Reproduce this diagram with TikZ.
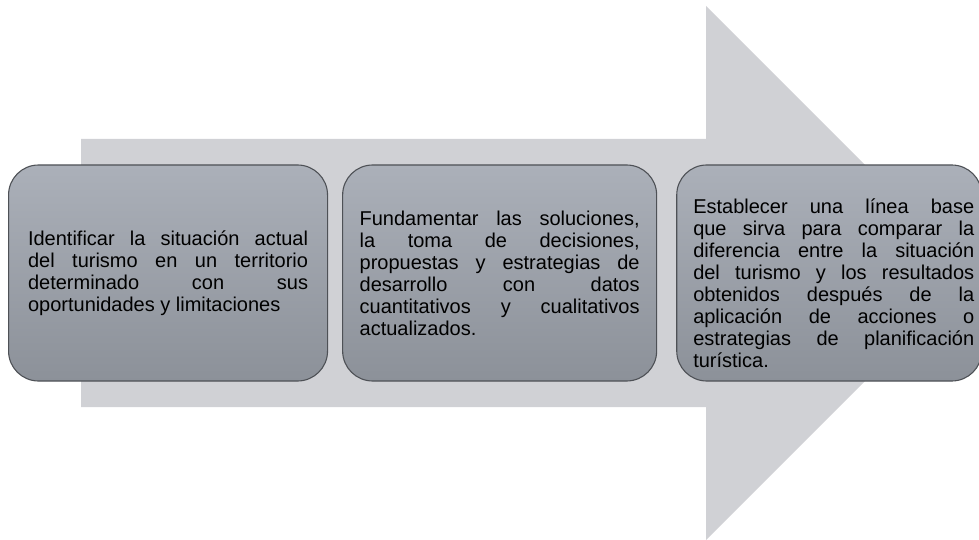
\documentclass[tikz,border=0pt]{standalone}
\usepackage{fontspec}
\setmainfont{Liberation Sans}
\usetikzlibrary{positioning}
\definecolor{flecha}{HTML}{D0D1D5}
\definecolor{cajaarriba}{HTML}{ABB0B9}
\definecolor{cajaabajo}{HTML}{8C9199}
\definecolor{borde}{HTML}{4E5156}
\hbadness=10000

\begin{document}
\begin{tikzpicture}[x=1pt,y=-1pt,
	caja/.style={draw=borde, line width=1.1pt, rounded corners=30pt, top color=cajaarriba, bottom color=cajaabajo, minimum height=216pt, text width=280pt, align=justify, inner sep=0pt, font=\fontsize{20}{22}\selectfont}]
	\useasboundingbox (0,0) rectangle (979,540);
	\fill[flecha] (81,139) -- (706,139) -- (706,6) -- (973,273) -- (706,540) -- (706,407) -- (81,407) -- cycle;

	\node[caja, minimum width=319pt, anchor=west] (ident) at (8,273) {Identificar la situación actual\linebreak del turismo en un territorio\linebreak determinado con sus\linebreak oportunidades y limitaciones};
	\node[caja, minimum width=314pt, right=14pt of ident] (fund) {Fundamentar las soluciones,\linebreak la toma de decisiones,\linebreak propuestas y estrategias de\linebreak desarrollo con datos\linebreak cuantitativos y cualitativos\linebreak actualizados.};
	\node[caja, minimum width=305pt, text width=, right=19pt of fund] (estab) {\parbox{290pt}{\leftskip=9pt\vspace*{20pt}Establecer una línea base\linebreak que sirva para comparar la\linebreak diferencia entre la situación\linebreak del turismo y los resultados\linebreak obtenidos después de la\linebreak aplicación de acciones o\linebreak estrategias de planificación\linebreak turística.}};
\end{tikzpicture}
\end{document}
